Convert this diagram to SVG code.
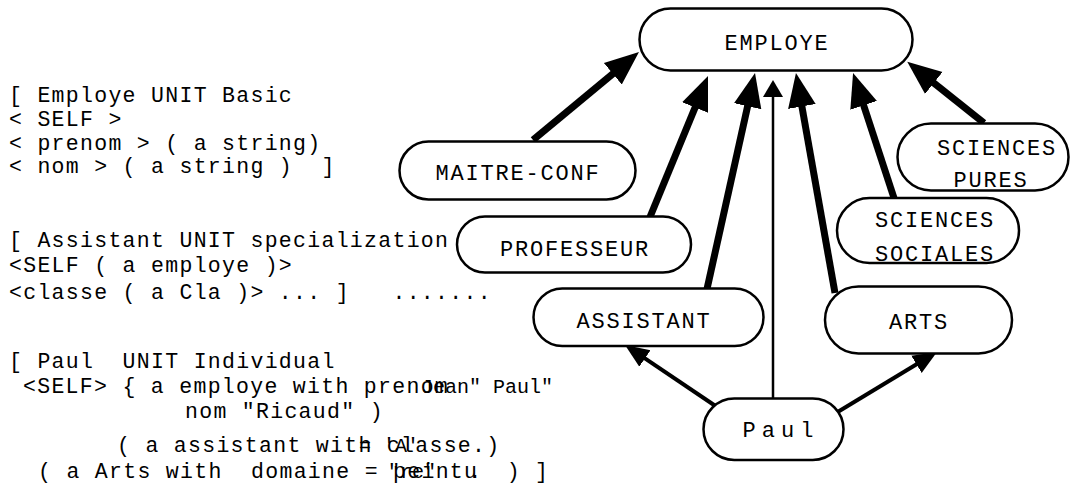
<svg xmlns="http://www.w3.org/2000/svg" width="1070" height="493" viewBox="0 0 1070 493">
<style>
.code{font-family:"Liberation Mono",monospace;font-size:21.5px;letter-spacing:1.3px;fill:#000;white-space:pre}
.over{font-family:"Liberation Mono",monospace;font-size:20px;letter-spacing:0;fill:#000;white-space:pre}
.node rect{fill:#fff;stroke:#000;stroke-width:2.5}
.node text{font-family:"Liberation Mono",monospace;font-size:22px;letter-spacing:1.8px;fill:#000;text-anchor:middle}
.thick{stroke:#000;stroke-width:7;fill:none}
.mid{stroke:#000;stroke-width:4;fill:none}
.thin{stroke:#000;stroke-width:2.5;fill:none}
</style>
<defs>
<marker id="hThick" markerUnits="userSpaceOnUse" viewBox="0 -15 35 30" markerWidth="35" markerHeight="30" refX="4" refY="0" orient="auto"><path d="M0,-14 L34,0 L0,14 z" fill="#000"/></marker>
<marker id="hMid" markerUnits="userSpaceOnUse" viewBox="0 -11 25 22" markerWidth="25" markerHeight="22" refX="4" refY="0" orient="auto"><path d="M0,-10 L24,0 L0,10 z" fill="#000"/></marker>
<marker id="hThin" markerUnits="userSpaceOnUse" viewBox="0 -11 18 22" markerWidth="18" markerHeight="22" refX="3" refY="0" orient="auto"><path d="M0,-10 L17,0 L0,10 z" fill="#000"/></marker>
</defs>
<rect x="0" y="0" width="1070" height="493" fill="#fff"/>
<g id="code" xml:space="preserve">
<text class="code" x="9" y="102">[ Employe UNIT Basic</text>
<text class="code" x="9" y="126">&lt; SELF &gt;</text>
<text class="code" x="9" y="150">&lt; prenom &gt; ( a string)</text>
<text class="code" x="9" y="173">&lt; nom &gt; ( a string )  ]</text>
<text class="code" x="9" y="247">[ Assistant UNIT specialization</text>
<text class="code" x="9" y="272">&lt;SELF ( a employe )&gt;</text>
<text class="code" x="9" y="299">&lt;classe ( a Cla )&gt; ... ]   .......</text>
<text class="code" x="9" y="368">[ Paul  UNIT Individual</text>
<text class="code" x="23" y="393">&lt;SELF&gt; { a employe with prenom</text>
<text class="over" x="421" y="393">Jean" Paul"</text>
<text class="code" x="185" y="418">nom "Ricaud" )</text>
<text class="code" x="117" y="452">( a assistant with classe.)</text>
<text class="over" x="359" y="452">= 'A'</text>
<text class="code" x="38" y="478">( a Arts with  domaine = peintu  ) ]</text>
<text class="over" x="388" y="478">"re"<tspan x="469">.</tspan></text>
</g>
<g id="connectors">
<line class="thick" x1="533" y1="140" x2="615.9" y2="71.2" marker-end="url(#hThick)"/>
<line class="thick" x1="650" y1="217" x2="696.6" y2="103.8" marker-end="url(#hThick)"/>
<line class="thick" x1="707" y1="289" x2="748.5" y2="102.3" marker-end="url(#hThick)"/>
<line class="thin" x1="773" y1="399" x2="773" y2="94" marker-end="url(#hThin)"/>
<line class="thick" x1="835" y1="293" x2="801.2" y2="102.5" marker-end="url(#hThick)"/>
<line class="thick" x1="894" y1="198" x2="862.4" y2="101.5" marker-end="url(#hThick)"/>
<line class="thick" x1="984" y1="123" x2="930.7" y2="80.5" marker-end="url(#hThick)"/>
<line class="mid" x1="717" y1="407" x2="641.6" y2="356.2" marker-end="url(#hMid)"/>
<line class="mid" x1="836" y1="413" x2="919.9" y2="362.3" marker-end="url(#hMid)"/>
</g>
<g id="employe" class="node"><rect x="639.5" y="8.5" width="273" height="62" rx="31"/><text x="777" y="50">EMPLOYE</text></g>
<g id="maitre-conf" class="node"><rect x="399.5" y="141.5" width="236" height="58" rx="29"/><text x="518" y="180">MAITRE-CONF</text></g>
<g id="professeur" class="node"><rect x="457" y="216.5" width="234" height="56" rx="28"/><text x="575" y="256">PROFESSEUR</text></g>
<g id="sciences-pures" class="node"><rect x="897.5" y="123.5" width="171" height="67" rx="33.5"/><text x="997" y="155">SCIENCES</text><text x="991" y="187">PURES</text></g>
<g id="sciences-sociales" class="node"><rect x="837" y="198" width="182" height="65" rx="32.5"/><text x="935" y="227">SCIENCES</text><text x="935" y="261">SOCIALES</text></g>
<g id="assistant" class="node"><rect x="533.5" y="288.5" width="230" height="57.5" rx="28.75"/><text x="644" y="328">ASSISTANT</text></g>
<g id="arts" class="node"><rect x="825" y="286.5" width="187" height="67" rx="33.5"/><text x="919" y="329">ARTS</text></g>
<g id="paul" class="node"><rect x="703.5" y="398.5" width="140" height="61.5" rx="30.75"/><text x="781" y="437" style="letter-spacing:6px">Paul</text></g>
</svg>
